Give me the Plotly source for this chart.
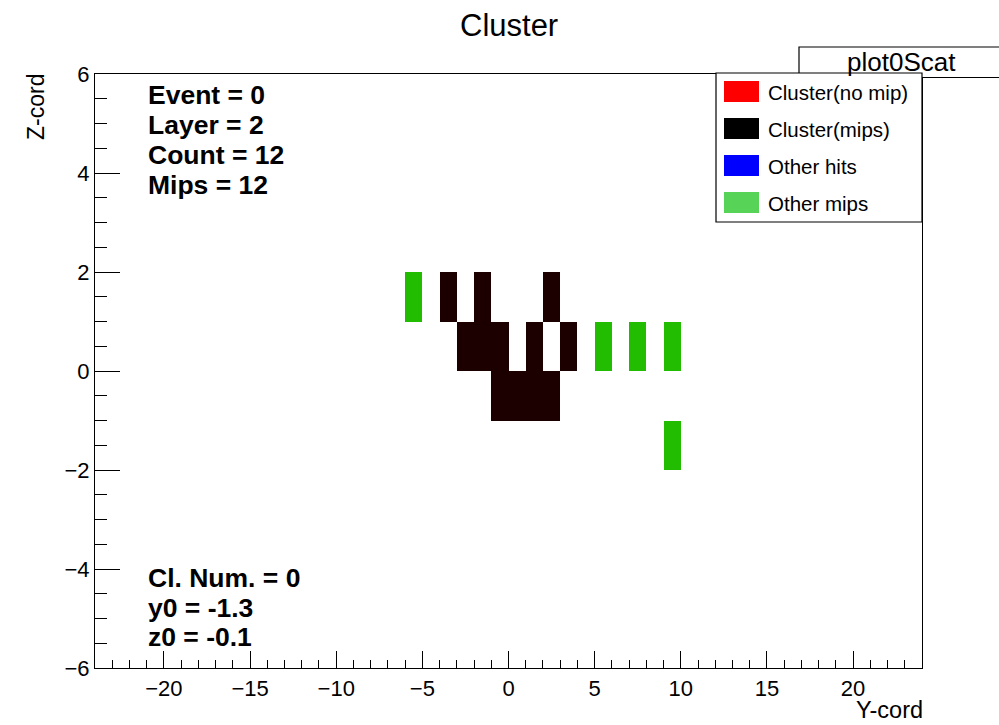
import plotly.graph_objects as go

# Hit cells (bin centres) in the Y/Z plane for this layer
cluster_y = [-3.5, -1.5, 2.5, -2.5, -1.5, -0.5, 1.5, 3.5, -0.5, 0.5, 1.5, 2.5]
cluster_z = [1.5, 1.5, 1.5, 0.5, 0.5, 0.5, 0.5, 0.5, -0.5, -0.5, -0.5, -0.5]
other_mip_y = [-5.5, 5.5, 7.5, 9.5, 9.5]
other_mip_z = [1.5, 0.5, 0.5, 0.5, -1.5]

# Histogram binning: unit cells
y_lo, y_hi = -24, 24
z_lo, z_hi = -6, 6
y_centres = [y_lo + 0.5 + i for i in range(y_hi - y_lo)]
z_centres = [z_lo + 0.5 + j for j in range(z_hi - z_lo)]

legend_labels = ["Cluster(no mip)", "Cluster(mips)", "Other hits", "Other mips"]
legend_colors = ["#ff0000", "#000000", "#0000ff", "#57d457"]

info_top = ["Event = 0", "Layer = 2", "Count = 12", "Mips = 12"]
info_bottom = ["Cl. Num. = 0", "y0 = -1.3", "z0 = -0.1"]

FONT = "Liberation Sans, Arial, Helvetica, sans-serif"


def fill_grid(ys, zs):
    grid = [[None for _ in y_centres] for _ in z_centres]
    for y, z in zip(ys, zs):
        grid[z_centres.index(z)][y_centres.index(y)] = 1
    return grid


fig = go.Figure()
for ys, zs, col in [(cluster_y, cluster_z, "#1c0000"),
                    (other_mip_y, other_mip_z, "#22bc00")]:
    fig.add_trace(go.Heatmap(
        x=y_centres, y=z_centres, z=fill_grid(ys, zs),
        colorscale=[[0, col], [1, col]], showscale=False,
        zmin=0, zmax=1, hoverinfo="skip",
    ))

W, H = 999, 725
L, R, T, B = 95, 922, 74, 668


def px(x):
    return (x - L) / (R - L)


def py(y):
    return (B - y) / (B - T)


annotations = []
shapes = []

# Title
annotations.append(dict(text="Cluster", x=px(508.5), y=py(25), xref="paper", yref="paper",
                        showarrow=False, font=dict(size=31, family=FONT, color="black"),
                        xanchor="center", yanchor="middle"))

# Axis titles
annotations.append(dict(text="Y-cord", x=px(925), y=py(710), xref="paper", yref="paper",
                        showarrow=False, font=dict(size=23.5, family=FONT, color="black"),
                        xanchor="right", yanchor="middle"))
annotations.append(dict(text="Z-cord", x=px(36), y=py(72), xref="paper", yref="paper",
                        showarrow=False, textangle=-90,
                        font=dict(size=23, family=FONT, color="black"),
                        xanchor="center", yanchor="top"))

# Event information
for i, line in enumerate(info_top):
    annotations.append(dict(text="<b>%s</b>" % line, x=px(146), y=py(95 + 30 * i),
                            xref="paper", yref="paper", showarrow=False,
                            font=dict(size=26.5, family=FONT, color="black"),
                            xanchor="left", yanchor="middle"))
for i, line in enumerate(info_bottom):
    annotations.append(dict(text="<b>%s</b>" % line, x=px(146), y=py(578 + 29.5 * i),
                            xref="paper", yref="paper", showarrow=False,
                            font=dict(size=26.5, family=FONT, color="black"),
                            xanchor="left", yanchor="middle"))

# Statistics box header
shapes.append(dict(type="rect", xref="paper", yref="paper",
                   x0=px(799), x1=px(1010), y0=py(77.5), y1=py(47),
                   line=dict(color="black", width=1.2), fillcolor="white", layer="above"))
annotations.append(dict(text="plot0Scat", x=px(901), y=py(62), xref="paper", yref="paper",
                        showarrow=False, font=dict(size=26, family=FONT, color="black"),
                        xanchor="center", yanchor="middle"))

# Legend box
shapes.append(dict(type="rect", xref="paper", yref="paper",
                   x0=px(716), x1=px(922), y0=py(222), y1=py(73),
                   line=dict(color="black", width=1.2), fillcolor="white", layer="above"))
for i, (lab, col) in enumerate(zip(legend_labels, legend_colors)):
    cy = 91.5 + 37 * i
    shapes.append(dict(type="rect", xref="paper", yref="paper",
                       x0=px(724), x1=px(759), y0=py(cy + 10.5), y1=py(cy - 10.5),
                       line=dict(width=0), fillcolor=col, layer="above"))
    annotations.append(dict(text=lab, x=px(766), y=py(cy + 1), xref="paper", yref="paper",
                            showarrow=False, font=dict(size=20.5, family=FONT, color="black"),
                            xanchor="left", yanchor="middle"))

fig.update_layout(
    width=W, height=H,
    margin=dict(l=L, r=W - R, t=T, b=H - B, pad=0),
    paper_bgcolor="white", plot_bgcolor="white",
    font=dict(family=FONT, color="black", size=22),
    showlegend=False,
    annotations=annotations, shapes=shapes,
)
fig.update_xaxes(
    range=[y_lo, y_hi], tickmode="linear", tick0=0, dtick=5,
    ticks="inside", ticklen=17, tickwidth=1, tickcolor="black",
    minor=dict(ticks="inside", dtick=1, tick0=0, ticklen=8, tickcolor="black", tickwidth=1),
    showline=True, linecolor="black", linewidth=1.2, mirror=True,
    showgrid=False, zeroline=False, tickfont=dict(size=22, family=FONT),
)
fig.update_yaxes(
    range=[z_lo, z_hi], tickmode="linear", tick0=0, dtick=2,
    ticks="inside", ticklen=25, tickwidth=1, tickcolor="black",
    minor=dict(ticks="inside", dtick=0.5, tick0=0, ticklen=12, tickcolor="black", tickwidth=1),
    showline=True, linecolor="black", linewidth=1.2, mirror=True,
    showgrid=False, zeroline=False, tickfont=dict(size=22, family=FONT),
)

fig.write_html("out.html")
